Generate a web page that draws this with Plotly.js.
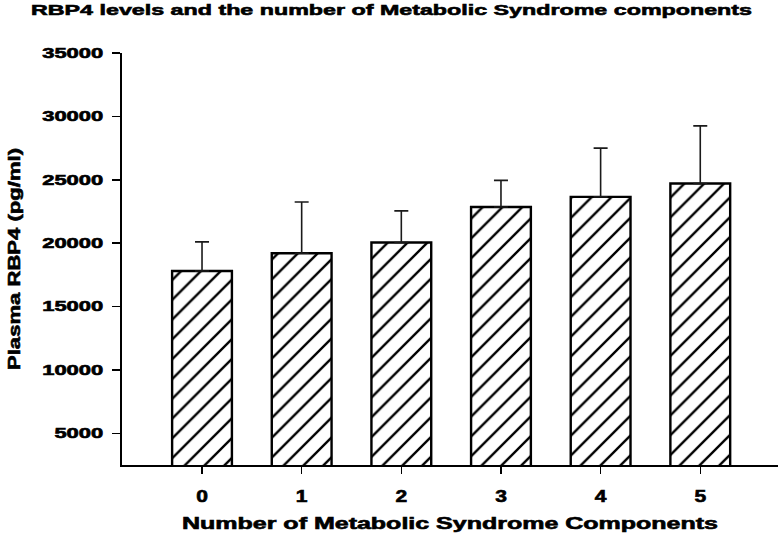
<!DOCTYPE html>
<html>
<head>
<meta charset="utf-8">
<script src="https://cdn.plot.ly/plotly-3.0.1.min.js"></script>
<style>html,body{margin:0;padding:0;background:#fff;}#chart{width:780px;height:539px;}</style>
</head>
<body>
<div id="chart"></div>
<script>
// Data
const categories = ["0", "1", "2", "3", "4", "5"];
const meanRBP4 = [17800, 19200, 20050, 22850, 23650, 24700];
const errorUp = [2300, 4050, 2500, 2100, 3850, 4550];
const yTickValues = [5000, 10000, 15000, 20000, 25000, 30000, 35000];
const yTickLabels = ["5000", "10000", "15000", "20000", "25000", "30000", "35000"];

const xPos = categories.map((c, i) => i);
const FONT = "Liberation Sans, Arial, sans-serif";

const trace = {
  type: "bar",
  x: xPos,
  y: meanRBP4,
  width: 0.6,
  marker: {
    color: "#ffffff",
    line: {color: "#000000", width: 2.4},
    pattern: {shape: "/", fgcolor: "#000000", bgcolor: "#ffffff", fgopacity: 1, size: 14, solidity: 0.17, fillmode: "replace"}
  },
  error_y: {
    type: "data",
    symmetric: false,
    array: errorUp,
    arrayminus: errorUp.map(() => 0),
    color: "#1a1a1a",
    thickness: 1.6,
    width: 7
  },
  hoverinfo: "skip"
};

const layout = {
  width: 780,
  height: 539,
  paper_bgcolor: "#ffffff",
  plot_bgcolor: "#ffffff",
  showlegend: false,
  margin: {l: 122, r: 2, t: 53, b: 74},
  title: {
    text: "RBP4 levels and the number of Metabolic Syndrome components",
    font: {family: FONT, size: 15, color: "#000", weight: "bold"},
    xref: "container", x: 31/780, xanchor: "left",
    yref: "container", y: 1 - 9.5/539, yanchor: "middle"
  },
  xaxis: {
    range: [-0.803, 5.78],
    tickmode: "array",
    tickvals: xPos,
    ticktext: categories,
    showline: true, linecolor: "#000", linewidth: 2,
    ticks: "outside", ticklen: 7, tickwidth: 1.5, tickcolor: "#000",
    ticklabelstandoff: 9,
    showgrid: false, zeroline: false,
    tickfont: {family: FONT, size: 16, color: "#000", weight: "bold"},
    title: {text: "Number of Metabolic Syndrome Components", font: {family: FONT, size: 16, color: "#000", weight: "bold"}, standoff: 14}
  },
  yaxis: {
    range: [2500, 35000],
    tickmode: "array",
    tickvals: yTickValues,
    ticktext: yTickLabels,
    showline: true, linecolor: "#000", linewidth: 2,
    ticks: "outside", ticklen: 8, tickwidth: 1.5, tickcolor: "#000",
    ticklabelstandoff: 6,
    showgrid: false, zeroline: false,
    tickfont: {family: FONT, size: 14, color: "#000", weight: "bold"},
    title: {text: "Plasma RBP4 (pg/ml)", font: {family: FONT, size: 17, color: "#000", weight: "bold"}, standoff: 39}
  }
};

// The reference uses a very wide, heavy bold face; widen text along its baseline.
function stretchTo(el, target) {
  el.setAttribute("textLength", target.toFixed(1));
  el.setAttribute("lengthAdjust", "spacingAndGlyphs");
  el.style.stroke = "#000";
  el.style.strokeWidth = "0.6px";
}
function stretchBy(el, f) {
  const w = el.getComputedTextLength();
  stretchTo(el, w * f);
}

Plotly.newPlot("chart", [trace], layout, {displayModeBar: false, staticPlot: true}).then(gd => {
  const t = gd.querySelector("text.gtitle");
  if (t) stretchTo(t, 721);
  const xt = gd.querySelector("text.xtitle");
  if (xt) stretchTo(xt, 536);
  const yt = gd.querySelector("text.ytitle");
  if (yt) stretchTo(yt, 222);
  const yLabels = Array.from(gd.querySelectorAll("g.ytick text"));
  const ref = yLabels.find(e => e.textContent === "35000");
  const fy = ref ? 61 / ref.getComputedTextLength() : 1.3;
  yLabels.forEach(e => stretchBy(e, fy));
  gd.querySelectorAll("g.xtick text").forEach(e => stretchBy(e, 1.31));
});
</script>
</body>
</html>
